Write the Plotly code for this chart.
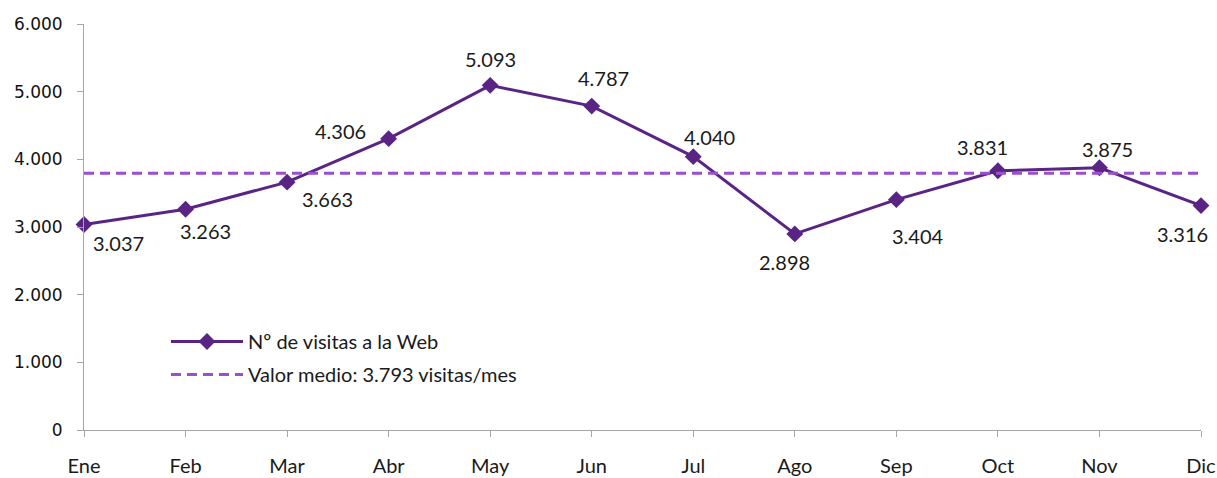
import plotly.graph_objects as go

months = ["Ene", "Feb", "Mar", "Abr", "May", "Jun", "Jul", "Ago", "Sep", "Oct", "Nov", "Dic"]
visits = [3037, 3263, 3663, 4306, 5093, 4787, 4040, 2898, 3404, 3831, 3875, 3316]
mean_value = 3793
y_ticks = [0, 1000, 2000, 3000, 4000, 5000, 6000]
y_tick_labels = ["0", "1.000", "2.000", "3.000", "4.000", "5.000", "6.000"]
# label offsets in pixels (dx, dy)
label_dx = [34, 20, 40, -48, 0, 12, 16, -10, 22, -15, 8, -19]
label_dy = [-18, -22, -17, 8, 26, 28, 20, -28, -36, 24, 19, -28]

LINE_COLOR = "#5A2484"
MEAN_COLOR = "#9A4FCF"
TXT_FONT = "Lato, 'Open Sans', sans-serif"


def fmt(v):
    return f"{v:,}".replace(",", ".")


fig = go.Figure()
fig.add_trace(go.Scatter(
    x=months, y=visits, mode="lines+markers",
    name="Nº de visitas a la Web",
    line=dict(color=LINE_COLOR, width=3),
    marker=dict(symbol="diamond", size=13, color=LINE_COLOR),
    cliponaxis=False, legendrank=1, legendgroup="a",
))
fig.add_trace(go.Scatter(
    x=months, y=[mean_value] * len(months), mode="lines",
    name=f"Valor medio: {fmt(mean_value)} visitas/mes",
    line=dict(color=MEAN_COLOR, width=3, dash="10px,6px"),
    cliponaxis=False, legendrank=2, legendgroup="b",
))

for m, v, dx, dy in zip(months, visits, label_dx, label_dy):
    fig.add_annotation(x=m, y=v, text=fmt(v), showarrow=False,
                       xshift=dx, yshift=dy,
                       font=dict(family=TXT_FONT, size=20, color="#1a1a1a"))

fig.update_layout(
    width=1217, height=478,
    margin=dict(l=84, r=16, t=24, b=48, autoexpand=False),
    paper_bgcolor="white", plot_bgcolor="white",
    showlegend=True,
    legend=dict(x=0.0734, y=0.266, xanchor="left", yanchor="top",
                font=dict(family=TXT_FONT, size=20, color="#1a1a1a"),
                bgcolor="rgba(0,0,0,0)", itemwidth=72,
                traceorder="grouped", tracegroupgap=4),
)
fig.update_xaxes(
    type="category", range=[0, 11], automargin=False,
    showline=True, linecolor="#A6A6A6", linewidth=1,
    ticks="outside", ticklen=6, tickcolor="#A6A6A6",
    showgrid=False, zeroline=False,
    tickfont=dict(family=TXT_FONT, size=20, color="#1a1a1a"),
    ticklabelstandoff=12,
)
fig.update_yaxes(
    range=[0, 6000], tickvals=y_ticks, ticktext=y_tick_labels, automargin=False,
    showline=True, linecolor="#A6A6A6", linewidth=1,
    ticks="outside", ticklen=6, tickcolor="#A6A6A6",
    showgrid=False, zeroline=False,
    tickfont=dict(family="'DejaVu Sans', Verdana, sans-serif", size=17, color="#111111"),
    ticklabelstandoff=11,
)

fig.write_html("out.html", config={"displayModeBar": False},
               post_script="document.body.style.margin='0';document.body.style.overflow='hidden';")
